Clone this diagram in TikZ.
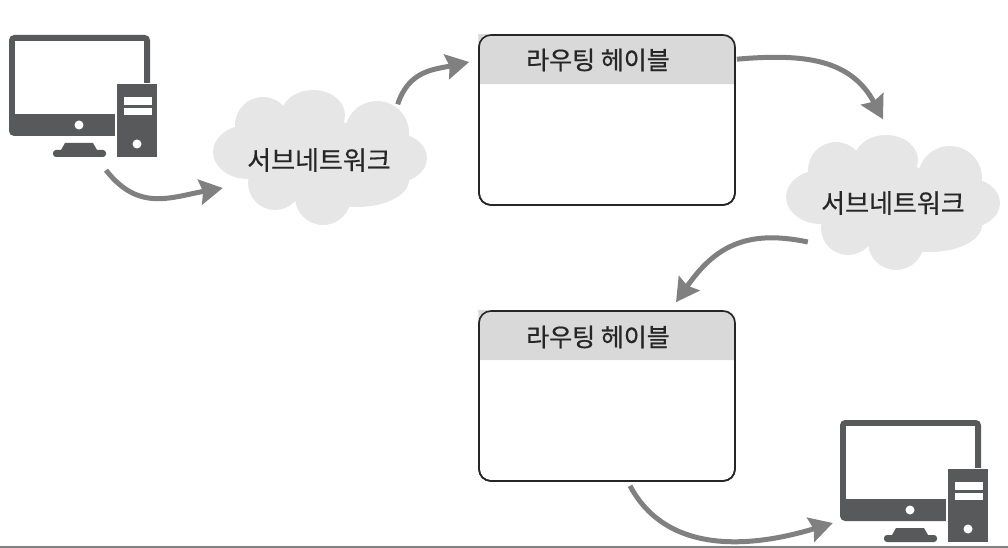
\documentclass[tikz,border=0pt]{standalone}
\usepackage{fontspec}
\setmainfont[FakeBold=0.6]{Noto Sans CJK KR}
\usetikzlibrary{arrows.meta}

\definecolor{pcgray}{HTML}{58595B}
\definecolor{cloudgray}{HTML}{E6E6E6}
\definecolor{headgray}{HTML}{D9D9D9}
\definecolor{flowgray}{HTML}{808080}

\begin{document}
\begin{tikzpicture}[x=1pt,y=-1pt,
tablebox/.style={draw=black!85,line width=1.6pt,rounded corners=12pt,minimum width=256pt,minimum height=170pt,inner sep=0pt},
headbox/.style={minimum width=254pt,minimum height=50pt,inner sep=0pt,text=black!85,font=\fontsize{25pt}{25pt}\selectfont},
cloudbox/.style={minimum width=213pt,minimum height=135pt,inner sep=0pt,text=black!85,font=\fontsize{26pt}{26pt}\selectfont},
pcbox/.style={minimum width=149pt,minimum height=122pt,inner sep=0pt},
flow/.style={draw=flowgray,line width=5pt,-{Stealth[length=23pt,width=25pt,inset=3pt]}},
pics/cloudshape/.style={code={
  \fill[cloudgray] (0,0) ellipse (70 and 40);
  \fill[cloudgray] (-72,-8) ellipse (35 and 27);
  \fill[cloudgray] (-57,-35) circle (28);
  \fill[cloudgray] (-7,-45) ellipse (32 and 25);
  \fill[cloudgray] (57,-27) circle (32);
  \fill[cloudgray] (74,-2) ellipse (33 and 25);
  \fill[cloudgray] (37,20) ellipse (52 and 27);
  \fill[cloudgray] (3,37) circle (28);
  \fill[cloudgray] (-45,23) ellipse (27 and 27);
}},
pics/pcshape/.style={code={
  % monitor, origin is the upper left corner
  \fill[pcgray,rounded corners=5pt] (0,0) rectangle (141,101);
  \fill[white] (6,6) rectangle (135,79);
  \fill[white] (106,47) rectangle (141,101);
  \fill[pcgray] (135,30) rectangle (141,48);
  \fill[white] (70,90) circle (4.5);
  % foot
  \fill[pcgray] (56,108) -- (84,108) -- (88,115) -- (52,115) -- cycle;
  \fill[pcgray,rounded corners=3pt] (44,115) rectangle (97,122);
  % tower
  \fill[pcgray] (108,49) rectangle (148,122);
  \fill[white] (115,62) rectangle (143,70);
  \fill[white] (115,73) rectangle (143,80);
  \fill[white] (128,109) circle (4.5);
}}]

\useasboundingbox (0,0) rectangle (1008,548);

\draw (9,35) pic {pcshape};
\draw (840,420) pic {pcshape};
\node[pcbox] (pcA) at (83.5,96) {};
\node[pcbox] (pcB) at (914.5,481) {};

\draw (320,160) pic {cloudshape};
\draw (893,205) pic {cloudshape};
\node[cloudbox] (cloudA) at (319,160) {서브네트워크};
\node[cloudbox] (cloudB) at (893,203) {서브네트워크};

\node[tablebox] (tableA) at (607,120) {};
\node[tablebox] (tableB) at (607,396) {};
\fill[headgray,rounded corners=11pt] (tableA.north west) -- (tableA.north east) [sharp corners] -- ++(0,50) -- ++(-256,0) -- cycle;
\fill[headgray,rounded corners=11pt] (tableB.north west) -- (tableB.north east) [sharp corners] -- ++(0,50) -- ++(-256,0) -- cycle;
\node[tablebox] at (tableA) {};
\node[tablebox] at (tableB) {};
\node[headbox] (headA) at (598,60) {라우팅 헤이블};
\node[headbox] (headB) at (598,337) {라우팅 헤이블};

\draw[flow] ([xshift=22.5pt,yshift=-13pt]pcA.south) to[out=-52,in=190,looseness=1.15] ([xshift=10.5pt,yshift=-28pt]cloudA.west);
\draw[flow] ([xshift=-28pt,yshift=-12pt]cloudA.north east) to[out=72,in=192,looseness=1.1] ([xshift=-9pt,yshift=58pt]tableA.west);
\draw[flow] ([xshift=1pt,yshift=-25pt]tableA.north east) to[out=5,in=118,looseness=1.1] ([xshift=-10pt,yshift=16pt]cloudB.north);
\draw[flow] ([xshift=21.5pt,yshift=-39pt]cloudB.west) to[out=168,in=55,looseness=1.15] ([xshift=69pt,yshift=8pt]tableB.north);
\draw[flow] ([xshift=23pt,yshift=-4pt]tableB.south) to[out=-62,in=197] ([xshift=-7pt,yshift=-42pt]pcB.west);

\draw[flowgray,line width=1.5pt] (0,547) -- (1008,547);
\end{tikzpicture}
\end{document}
